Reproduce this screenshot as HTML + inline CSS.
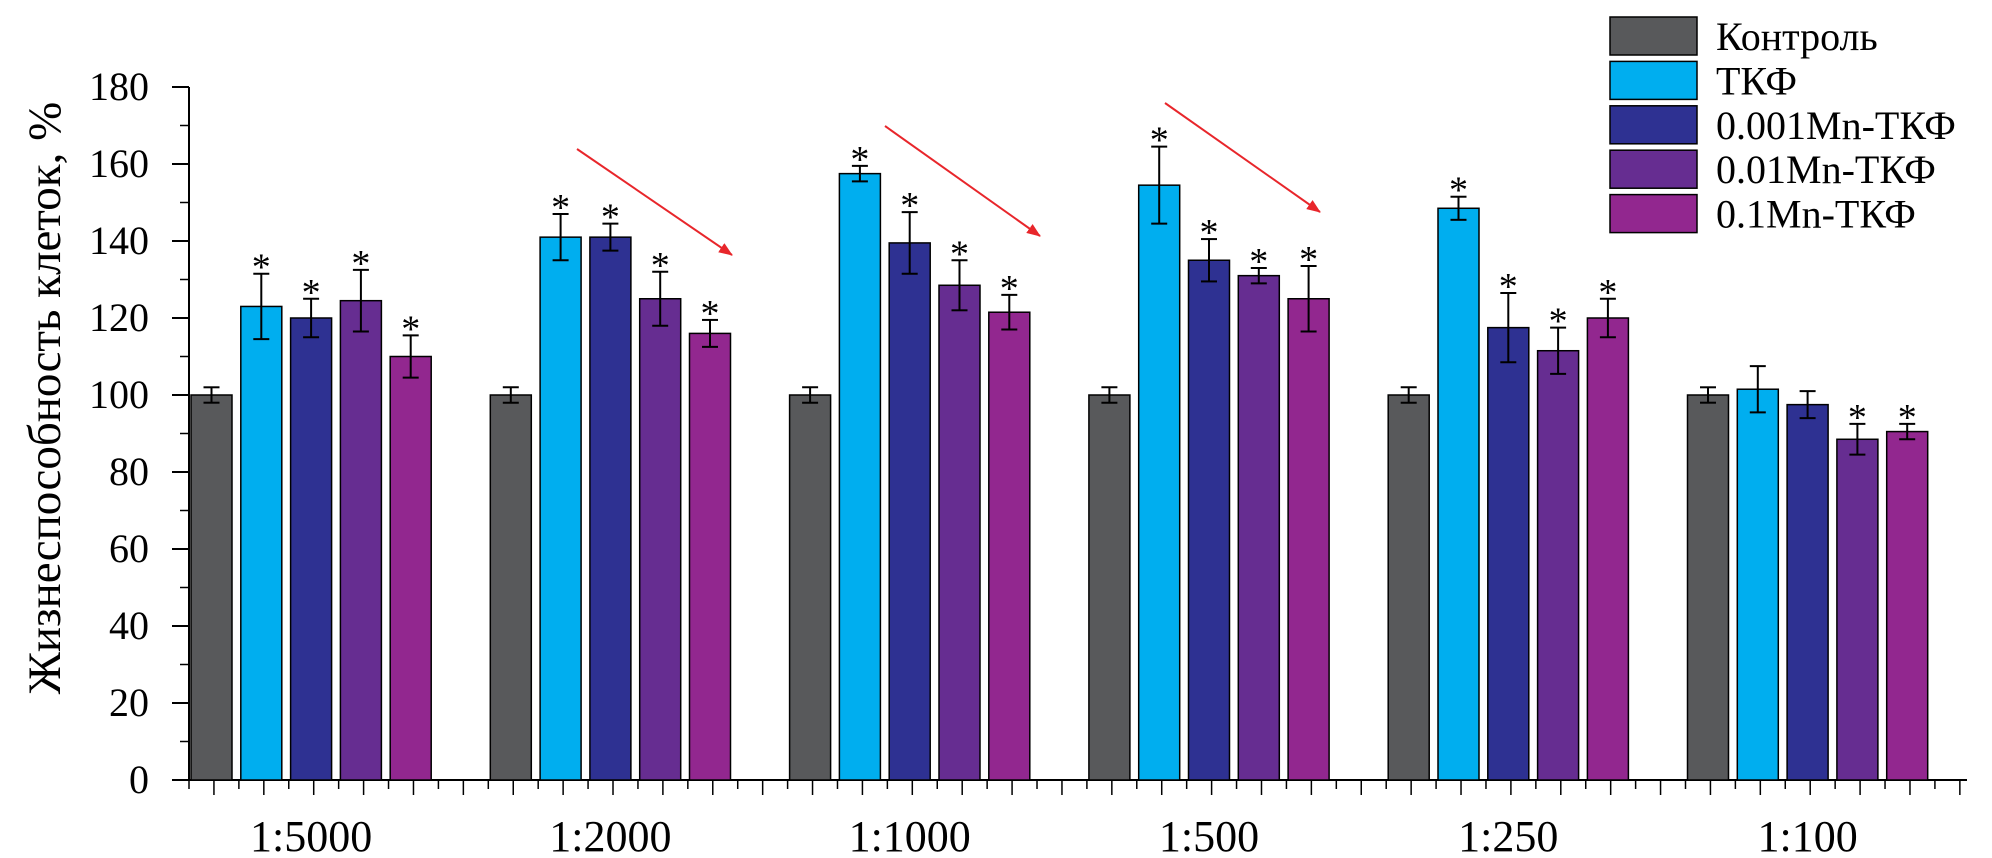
<!DOCTYPE html>
<html><head><meta charset="utf-8"><style>
html,body{margin:0;padding:0;background:#fff}
svg{display:block;font-family:"Liberation Serif",serif}
</style></head><body>
<svg id="chart" width="1992" height="858" viewBox="0 0 1992 858" xmlns="http://www.w3.org/2000/svg">
<g id="axes"></g>
<g id="bars"></g>
<g id="annot">
<defs><marker id="ah" markerWidth="14" markerHeight="11" refX="13" refY="5.5" orient="auto" markerUnits="userSpaceOnUse"><path d="M0,0 L14,5.5 L0,11 z" fill="#e8262b"/></marker></defs>
<line x1="577" y1="149" x2="732" y2="255" stroke="#e8262b" stroke-width="2" marker-end="url(#ah)"/>
<line x1="885" y1="126" x2="1040" y2="236" stroke="#e8262b" stroke-width="2" marker-end="url(#ah)"/>
<line x1="1165" y1="103" x2="1320" y2="212" stroke="#e8262b" stroke-width="2" marker-end="url(#ah)"/>
</g>
<g id="legend"></g>
<text transform="translate(60,398) rotate(-90)" text-anchor="middle" font-size="47">Жизнеспособность клеток, %</text>
</svg>
<script>
const categories = ["1:5000","1:2000","1:1000","1:500","1:250","1:100"];
const seriesNames = ["Контроль","ТКФ","0.001Mn-ТКФ","0.01Mn-ТКФ","0.1Mn-ТКФ"];
const control = [100,100,100,100,100,100];
const tkf = [123,141,157.5,154.5,148.5,101.5];
const mn001 = [120,141,139.5,135,117.5,97.5];
const mn01 = [124.5,125,128.5,131,111.5,88.5];
const mn1 = [110,116,121.5,125,120,90.5];
const errControl = [2,2,2,2,2,2];
const errTkf = [8.5,6,2,10,3,6];
const errMn001 = [5,3.5,8,5.5,9,3.5];
const errMn01 = [8,7,6.5,2,6,4];
const errMn1 = [5.5,3.5,4.5,8.5,5,2];
const sigTkf = [1,1,1,1,1,0];
const sigMn001 = [1,1,1,1,1,0];
const sigMn01 = [1,1,1,1,1,1];
const sigMn1 = [1,1,1,1,1,1];
const sigControl = [0,0,0,0,0,0];
const yTicks = [0,20,40,60,80,100,120,140,160,180];

const series=[control,tkf,mn001,mn01,mn1];
const errs=[errControl,errTkf,errMn001,errMn01,errMn1];
const sigs=[sigControl,sigTkf,sigMn001,sigMn01,sigMn1];
const colors=["#58595b","#00aeef","#2e3192","#662d91","#92278f"];
const NS="http://www.w3.org/2000/svg";
const X0=189, Y0=780, Ytop=87, yMax=180;
const groupStart=191, groupStep=299.3, barStep=49.8, barW=41;
function y(v){return Y0-(v/yMax)*(Y0-Ytop);}
function bx(g,s){return groupStart+g*groupStep+s*barStep;}
function mk(tag,attrs,parent){const e=document.createElementNS(NS,tag);for(const k in attrs)e.setAttribute(k,attrs[k]);parent.appendChild(e);return e;}
const axes=document.getElementById('axes'), bars=document.getElementById('bars'), leg=document.getElementById('legend');

let e=mk('line',{x1:X0,y1:Ytop,x2:X0,y2:Y0,stroke:'#000','stroke-width':2},axes);


for(let i=0;i<yTicks.length;i++){
  const t=yTicks[i];
  e=mk('line',{x1:X0-17,y1:y(t),x2:X0,y2:y(t),stroke:'#000','stroke-width':2},axes);
  
  
  e=mk('text',{x:X0-40,y:y(t)+13,'text-anchor':'end','font-size':40},axes);
  e.textContent=t;
  
  
  if(i<yTicks.length-1){
    const m=(t+yTicks[i+1])/2;
    e=mk('line',{x1:X0-9,y1:y(m),x2:X0,y2:y(m),stroke:'#000','stroke-width':1.5},axes);
    
    
  }
}
const xEnd=1967;
e=mk('line',{x1:X0-17,y1:Y0,x2:xEnd,y2:Y0,stroke:'#000','stroke-width':2},axes);


for(let k=0;;k++){
  const xx=X0+k*groupStep/12;
  if(xx>xEnd) break;
  e=mk('line',{x1:xx,y1:Y0,x2:xx,y2:Y0+(k%2===1?15:9),stroke:'#000','stroke-width':1.5},axes);
  
  
}
categories.forEach((c,g)=>{
  e=mk('text',{x:bx(g,2)+barW/2,y:851,'text-anchor':'middle','font-size':44},axes);
  e.textContent=c;
  
  
});
categories.forEach((c,g)=>{
  series.forEach((arr,s)=>{
    const v=arr[g], er=errs[s][g], x=bx(g,s);
    e=mk('rect',{x:x,y:y(v),width:barW,height:Y0-y(v),fill:colors[s],stroke:'#000','stroke-width':1.5},bars);
    
    
    const cx=x+barW/2;
    const g2=mk('g',{stroke:'#000','stroke-width':2},bars);
    
    
    mk('line',{x1:cx,y1:y(v+er),x2:cx,y2:y(v-er)},g2);
    mk('line',{x1:cx-8,y1:y(v+er),x2:cx+8,y2:y(v+er)},g2);
    mk('line',{x1:cx-8,y1:y(v-er),x2:cx+8,y2:y(v-er)},g2);
    if(sigs[s][g]){
      e=mk('text',{x:cx,y:y(v+er)+6,'text-anchor':'middle','font-size':38},bars);
      e.textContent='*';
      
      
    }
  });
});
seriesNames.forEach((n,i)=>{
  const yy=17+i*44.4;
  e=mk('rect',{x:1610,y:yy,width:87,height:38,fill:colors[i],stroke:'#000','stroke-width':1.5},leg);
  
  
  e=mk('text',{x:1716,y:yy+33,'font-size':40},leg);
  e.textContent=n;
  
  
});
</script>
</body></html>
